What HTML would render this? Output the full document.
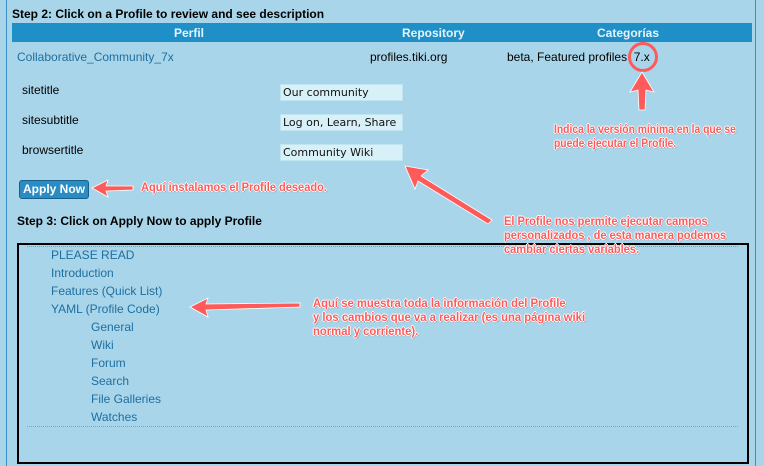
<!DOCTYPE html>
<html><head><meta charset="utf-8"><style>
body{margin:0;width:764px;height:466px;background:#a9d5ea;position:relative;overflow:hidden;font-family:"Liberation Sans",Arial,sans-serif;}
.a{position:absolute;white-space:nowrap;}
.blue{color:#1d6fa0;font-size:12px;}
.ann{position:absolute;white-space:nowrap;font-family:"Liberation Sans",sans-serif;font-weight:bold;font-size:12px;color:#ff5a5a;line-height:14px;transform:scaleX(0.92);transform-origin:0 0;text-shadow:1px 0 0 #fff,-1px 0 0 #fff,0 1px 0 #fff,0 -1px 0 #fff,1px 1px 1px #888;}
.inp{position:absolute;background:#d8f1f8;border:1px solid #bfe5f0;height:15px;width:119px;font-size:11px;font-family:"DejaVu Sans",sans-serif;line-height:15px;padding-left:2px;color:#111;}
</style></head><body>
<div class="a" style="left:6px;top:0;width:748px;height:466px;border-left:1px solid #3b8fc4;border-right:1px solid #3b8fc4;"></div>
<div class="a" style="left:12px;top:7px;font-size:12px;font-weight:bold;">Step 2: Click on a Profile to review and see description</div>
<div class="a" style="left:12px;top:23px;width:740px;height:19px;background:#1f90c7;"></div>
<div class="a" style="left:174px;top:26px;color:#e6f3fa;font-weight:bold;font-size:12px;">Perfil</div>
<div class="a" style="left:402px;top:26px;color:#e6f3fa;font-weight:bold;font-size:12px;">Repository</div>
<div class="a" style="left:597px;top:26px;color:#e6f3fa;font-weight:bold;font-size:12px;">Categorías</div>
<div class="a blue" style="left:17px;top:50px;">Collaborative_Community_7x</div>
<div class="a" style="left:370px;top:50px;font-size:12px;">profiles.tiki.org</div>
<div class="a" style="left:507px;top:50px;font-size:12px;">beta, Featured profiles &nbsp;7.x</div>
<div class="a" style="left:628px;top:42px;width:24px;height:24px;border:3px solid #ff5a5a;border-radius:50%;"></div>
<div class="a" style="left:22px;top:83px;font-size:12px;">sitetitle</div>
<div class="a" style="left:22px;top:113px;font-size:12px;">sitesubtitle</div>
<div class="a" style="left:22px;top:143px;font-size:12px;">browsertitle</div>
<div class="inp" style="left:280px;top:84px;">Our community</div>
<div class="inp" style="left:280px;top:114px;">Log on, Learn, Share</div>
<div class="inp" style="left:280px;top:144px;">Community Wiki</div>
<div class="a" style="left:19px;top:180px;width:68px;height:17px;background:#2a8cc4;border:1px solid #1a5f8a;border-radius:3px;color:#fff;font-weight:bold;font-size:12px;line-height:17px;text-align:center;">Apply Now</div>
<div class="a" style="left:17px;top:214px;font-size:12px;font-weight:bold;">Step 3: Click on Apply Now to apply Profile</div>
<div class="a" style="left:17px;top:243px;width:728px;height:217px;border:2px solid #000;"></div>
<div class="a" style="left:27px;top:246px;width:711px;border-top:1px dotted #999;"></div>
<div class="a" style="left:27px;top:426px;width:711px;border-top:1px dotted #999;"></div>
<div class="a blue" style="left:51px;top:248px;">PLEASE READ</div>
<div class="a blue" style="left:51px;top:266px;">Introduction</div>
<div class="a blue" style="left:51px;top:284px;">Features (Quick List)</div>
<div class="a blue" style="left:51px;top:302px;">YAML (Profile Code)</div>
<div class="a blue" style="left:91px;top:320px;">General</div>
<div class="a blue" style="left:91px;top:338px;">Wiki</div>
<div class="a blue" style="left:91px;top:356px;">Forum</div>
<div class="a blue" style="left:91px;top:374px;">Search</div>
<div class="a blue" style="left:91px;top:392px;">File Galleries</div>
<div class="a blue" style="left:91px;top:410px;">Watches</div>
<svg class="a" style="left:0;top:0" width="764" height="466">
<g fill="#ff5a5a" stroke="#fff" stroke-width="0.8">
<polygon points="642,72 654,92 646,90 645,110 639,110 638,90 630,92"/>
<polygon points="92,188 108,180 106,186 133,186 133,190 106,191 108,197"/>
<polygon points="405,166 428,170 421,176 492,220 488,224 418,181 415,189"/>
<polygon points="190,307 208,298 206,304 300,303 300,307 206,310 208,317"/>
</g>
</svg>
<div class="ann" style="left:554px;top:122px;transform:scaleX(0.86);">Indica la versión mínima en la que se<br>puede ejecutar el Profile.</div>
<div class="ann" style="left:141px;top:180px;">Aquí instalamos el Profile deseado.</div>
<div class="ann" style="left:504px;top:214px;">El Profile nos permite ejecutar campos<br>personalizados , de esta manera podemos<br>cambiar ciertas variables.</div>
<div class="ann" style="left:313px;top:296px;transform:scaleX(0.94);">Aquí se muestra toda la información del Profile<br>y los cambios que va a realizar (es una página wiki<br>normal y corriente).</div>
</body></html>
